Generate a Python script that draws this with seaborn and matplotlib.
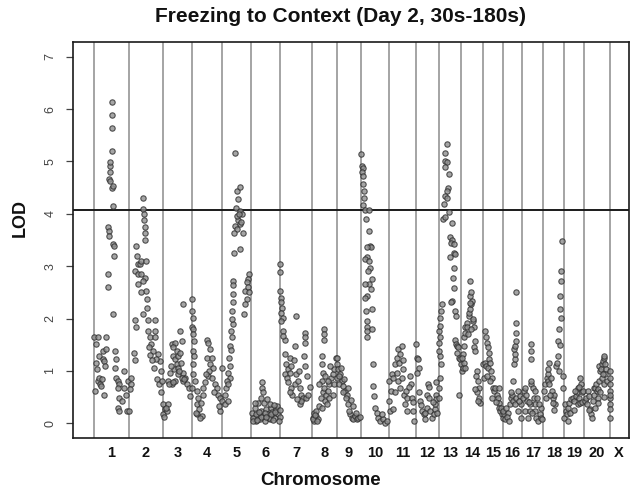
import matplotlib
matplotlib.use("Agg")
import matplotlib.pyplot as plt
import seaborn as sns
import numpy as np
import pandas as pd

# chromosome names and map lengths (cM)
chrom_names = ["1", "2", "3", "4", "5", "6", "7", "8", "9", "10", "11",
               "12", "13", "14", "15", "16", "17", "18", "19", "20", "X"]
chrom_len = [103, 102, 89, 90, 87, 87, 95, 74, 74, 82, 82,
             68, 67, 65, 61, 58, 63, 63, 58, 78, 55]
threshold = 4.07

# (position within chromosome in cM, LOD)
chr1 = [(0, 1.64), (2, 0.62), (4, 1.51), (5, 1.16), (8, 1.03), (10, 1.65), (12, 0.81), (14, 1.29),
        (15, 0.87), (18, 0.75), (20, 0.71), (22, 0.84), (25, 1.38), (27, 1.22), (28, 0.55), (30, 1.19),
        (32, 1.10), (35, 1.41), (35, 1.64), (42, 2.85), (42, 2.61), (42, 3.74), (44, 3.68), (45, 3.58),
        (48, 4.92), (48, 4.79), (48, 4.98), (45, 4.66), (48, 4.63), (52, 6.13), (54, 5.89), (52, 5.63),
        (54, 5.20), (52, 4.49), (55, 4.54), (55, 3.42), (58, 3.39), (60, 3.20), (55, 2.08), (55, 4.15),
        (62, 1.39), (65, 1.22), (62, 1.06), (65, 0.87), (70, 0.81), (75, 0.75), (72, 0.68), (75, 0.49),
        (82, 0.43), (72, 0.30), (75, 0.24), (90, 0.68), (95, 0.55), (98, 0.24), (100, 0.81), (88, 1.00)]
chr2 = [(43, 4.30), (43, 4.09), (45, 3.99), (47, 3.89), (48, 3.75), (50, 3.63), (50, 3.50), (23, 3.39),
        (26, 3.20), (28, 3.04), (33, 3.04), (38, 3.10), (53, 3.10), (18, 2.91), (28, 2.85), (38, 2.85),
        (48, 2.78), (43, 2.72), (28, 2.66), (53, 2.53), (38, 2.50), (56, 2.37), (56, 2.21), (43, 2.08),
        (18, 1.97), (21, 1.84), (58, 1.97), (80, 1.97), (58, 1.76), (63, 1.64), (78, 1.76), (68, 1.51),
        (78, 1.64), (73, 1.38), (88, 1.32), (93, 1.19), (83, 1.22), (96, 1.00), (86, 0.84), (90, 0.75),
        (8, 0.87), (6, 0.75), (16, 1.35), (18, 1.20), (3, 0.65), (0, 0.24), (60, 1.45), (65, 1.30),
        (70, 1.20), (75, 1.05), (98, 0.60), (100, 0.80)]
chr3 = [(2, 0.36), (7, 0.27), (0, 0.17), (12, 0.24), (17, 0.36), (27, 1.51), (37, 1.54), (32, 1.45),
        (42, 1.38), (30, 1.29), (37, 1.22), (47, 1.29), (52, 1.35), (57, 1.57), (52, 1.76), (60, 2.27),
        (42, 1.13), (34, 1.03), (47, 0.94), (62, 0.97), (67, 0.87), (22, 0.97), (17, 0.81), (27, 0.75),
        (37, 0.81), (62, 0.81), (72, 0.75), (80, 0.68), (82, 0.52), (57, 0.87), (64, 0.84), (20, 0.76),
        (32, 0.78), (45, 1.05), (25, 1.10), (5, 0.12), (10, 0.30), (50, 1.00), (55, 1.15)]
chr4 = [(0, 2.37), (0, 2.15), (3, 2.02), (0, 1.83), (3, 1.80), (3, 1.70), (5, 1.57), (1, 1.38),
        (5, 1.29), (3, 1.13), (3, 0.94), (8, 0.81), (0, 0.68), (13, 0.62), (18, 0.49), (13, 0.36),
        (21, 0.27), (15, 0.17), (28, 0.14), (25, 0.39), (33, 0.55), (43, 1.60), (48, 1.54), (53, 1.41),
        (43, 1.25), (58, 1.25), (53, 1.13), (63, 1.06), (48, 0.90), (58, 0.87), (38, 0.78), (33, 0.68),
        (68, 0.75), (73, 0.68), (78, 0.55), (83, 0.49), (88, 1.06), (88, 0.43), (83, 0.24), (81, 0.33),
        (50, 1.00), (40, 0.95), (65, 0.60), (10, 0.20), (23, 0.10)]
chr5 = [(38, 5.17), (43, 4.44), (53, 4.51), (48, 4.29), (41, 4.12), (53, 4.06), (58, 3.99), (48, 3.89),
        (53, 3.80), (38, 3.77), (43, 3.71), (35, 3.64), (61, 3.64), (53, 3.32), (35, 3.25), (81, 2.85),
        (78, 2.75), (75, 2.70), (68, 2.53), (73, 2.37), (68, 2.27), (65, 2.08), (33, 2.72), (31, 2.64),
        (31, 2.46), (31, 2.31), (28, 2.15), (33, 1.89), (25, 1.76), (28, 1.64), (23, 1.48), (21, 1.25),
        (23, 1.10), (18, 0.97), (23, 0.87), (13, 0.81), (11, 0.68), (8, 0.55), (18, 0.75), (8, 0.36),
        (18, 0.43), (76, 2.60), (80, 2.50), (45, 3.95), (50, 4.00), (56, 3.85), (30, 2.00), (26, 1.40)]
chr6 = [(2, 0.20), (8, 0.11), (15, 0.04), (20, 0.17), (12, 0.30), (25, 0.08), (30, 0.24), (35, 0.14),
        (40, 0.04), (45, 0.27), (50, 0.17), (55, 0.08), (60, 0.30), (65, 0.20), (70, 0.11), (75, 0.27),
        (80, 0.17), (32, 0.78), (32, 0.68), (35, 0.59), (30, 0.49), (38, 0.39), (48, 0.46), (55, 0.36),
        (78, 0.33), (20, 0.39), (10, 0.39), (42, 0.20), (52, 0.10), (62, 0.22), (68, 0.35), (85, 0.12),
        (5, 0.10), (28, 0.12), (4, 0.05), (14, 0.18), (18, 0.06), (24, 0.22), (44, 0.12), (58, 0.18),
        (66, 0.06), (72, 0.22), (82, 0.05), (86, 0.25)]
chr7 = [(0, 3.04), (0, 2.88), (0, 2.53), (1, 2.40), (3, 2.31), (5, 2.21), (3, 2.11), (8, 2.02),
        (3, 1.96), (8, 1.76), (13, 1.60), (8, 1.67), (13, 1.32), (18, 1.13), (23, 1.03), (15, 0.94),
        (28, 1.25), (33, 1.10), (28, 0.97), (21, 0.87), (23, 0.78), (31, 0.68), (35, 0.55), (28, 0.59),
        (43, 0.75), (48, 0.94), (53, 0.81), (58, 0.68), (63, 0.55), (68, 0.49), (58, 0.36), (48, 2.05),
        (45, 1.48), (73, 1.73), (73, 1.64), (75, 1.54), (71, 1.29), (73, 1.10), (78, 0.49), (83, 0.55),
        (63, 0.43), (51, 0.46), (40, 1.20), (55, 1.00), (88, 0.70), (80, 0.90)]
chr8 = [(2, 0.11), (7, 0.04), (12, 0.14), (5, 0.20), (17, 0.08), (12, 0.24), (22, 0.33), (27, 0.49),
        (32, 0.59), (37, 0.68), (42, 0.55), (47, 0.62), (52, 0.75), (57, 0.87), (62, 0.94), (67, 1.03),
        (72, 1.25), (29, 0.81), (32, 0.97), (29, 1.13), (29, 1.29), (35, 1.80), (35, 1.70), (35, 1.60),
        (22, 0.75), (39, 0.43), (45, 0.36), (52, 0.49), (62, 0.55), (40, 0.90), (55, 1.10), (65, 0.75),
        (30, 0.30), (48, 0.80), (4, 0.08), (9, 0.16), (14, 0.05)]
chr9 = [(0, 1.25), (1, 1.13), (5, 1.03), (10, 0.94), (2, 0.87), (15, 0.81), (8, 0.75), (20, 0.71),
        (25, 0.62), (30, 0.55), (18, 0.59), (35, 0.68), (28, 0.49), (35, 0.36), (40, 0.17), (45, 0.11),
        (50, 0.08), (55, 0.14), (60, 0.08), (65, 0.11), (48, 0.33), (38, 0.24), (12, 1.05), (22, 0.85),
        (42, 0.45), (58, 0.20), (70, 0.12), (6, 0.90)]
chr10 = [(0, 5.14), (2, 4.92), (4, 4.88), (1, 4.79), (6, 4.73), (4, 4.57), (8, 4.44), (6, 4.17),
         (12, 4.08), (24, 4.08), (24, 3.68), (26, 3.39), (28, 3.37), (16, 3.37), (18, 3.17), (11, 3.13),
         (26, 2.97), (31, 2.75), (24, 2.66), (28, 2.56), (11, 2.66), (16, 2.43), (12, 2.40), (14, 2.15),
         (31, 2.18), (16, 1.96), (16, 1.83), (16, 1.76), (31, 1.80), (16, 1.64), (34, 1.13), (36, 0.71),
         (38, 0.52), (41, 0.30), (46, 0.20), (51, 0.11), (56, 0.04), (66, 0.08), (71, 0.01), (61, 0.17),
         (76, 0.04), (20, 2.90), (22, 3.10), (14, 3.90), (9, 4.30)]
chr11 = [(4, 0.24), (2, 0.43), (6, 0.62), (2, 0.81), (9, 0.94), (14, 0.87), (19, 1.13), (24, 1.25),
         (29, 1.41), (34, 1.32), (39, 1.48), (32, 1.16), (24, 0.97), (29, 0.81), (34, 0.68), (39, 0.87),
         (44, 1.03), (46, 0.55), (52, 0.62), (54, 0.49), (49, 0.36), (56, 0.24), (64, 0.90), (66, 0.75),
         (69, 0.49), (74, 0.24), (76, 0.04), (12, 0.27), (20, 0.60), (42, 1.20), (60, 0.70), (72, 0.40)]
chr12 = [(1, 1.51), (2, 1.25), (5, 1.22), (8, 1.06), (4, 0.97), (13, 0.43), (18, 0.24), (23, 0.17),
         (28, 0.20), (33, 0.30), (36, 0.75), (33, 0.55), (38, 0.49), (43, 0.24), (48, 0.11), (53, 0.17),
         (56, 0.27), (58, 0.36), (60, 0.55), (60, 0.78), (60, 0.46), (26, 0.08), (15, 0.35), (40, 0.70),
         (50, 0.40), (64, 0.20), (10, 0.60)]
chr13 = [(5, 1.29), (0, 1.38), (2, 1.54), (5, 1.64), (2, 1.76), (5, 1.86), (5, 2.02), (8, 2.15),
         (10, 2.27), (8, 1.13), (5, 0.87), (0, 0.68), (1, 0.49), (25, 5.34), (20, 5.17), (20, 5.01),
         (25, 4.98), (18, 4.89), (30, 4.76), (28, 4.50), (25, 4.44), (20, 4.34), (25, 4.31), (15, 4.18),
         (12, 3.90), (20, 3.93), (30, 4.03), (40, 3.83), (35, 3.55), (40, 3.50), (38, 3.45), (45, 3.42),
         (45, 3.26), (48, 3.23), (35, 3.17), (45, 2.97), (42, 2.78), (45, 2.59), (40, 2.34), (38, 2.31),
         (50, 2.15), (52, 2.05), (50, 1.60), (52, 1.51), (55, 1.48), (58, 1.45), (55, 1.35), (60, 1.25),
         (62, 0.55), (65, 1.22)]
chr14 = [(1, 1.13), (3, 1.00), (5, 1.06), (8, 1.64), (13, 1.73), (11, 1.83), (18, 1.92), (23, 2.05),
         (25, 2.11), (28, 2.18), (31, 2.27), (33, 2.34), (28, 2.43), (31, 2.50), (28, 2.72), (18, 1.83),
         (21, 1.70), (35, 1.96), (38, 1.83), (31, 1.80), (41, 1.57), (38, 1.45), (43, 1.38), (8, 1.48),
         (5, 1.32), (8, 1.16), (3, 1.25), (13, 1.06), (48, 1.00), (45, 0.90), (51, 0.81), (53, 0.68),
         (48, 0.59), (53, 0.49), (58, 0.39), (51, 0.43), (43, 0.65), (36, 2.00), (26, 2.30)]
chr15 = [(3, 0.87), (0, 1.13), (6, 1.16), (10, 1.10), (8, 1.76), (10, 1.64), (13, 1.54), (16, 1.45),
         (18, 1.35), (20, 1.22), (23, 1.16), (16, 1.06), (26, 1.00), (28, 0.87), (23, 0.81), (30, 0.68),
         (33, 0.62), (38, 0.68), (43, 0.55), (46, 0.49), (48, 0.39), (50, 0.30), (53, 0.24), (58, 0.17),
         (60, 0.11), (48, 0.68), (13, 0.90), (28, 0.49), (40, 0.40), (55, 0.30)]
chr16 = [(3, 0.17), (7, 0.08), (0, 0.24), (10, 0.30), (15, 0.20), (20, 0.36), (23, 0.49), (27, 0.55),
         (30, 0.81), (33, 1.13), (35, 1.22), (37, 1.32), (33, 1.41), (35, 1.48), (40, 1.57), (40, 1.73),
         (40, 1.92), (40, 2.50), (25, 0.59), (30, 0.43), (35, 0.36), (40, 0.49), (45, 0.62), (50, 0.52),
         (45, 0.24), (53, 0.11), (55, 0.36), (47, 0.43), (12, 0.12), (18, 0.05)]
chr17 = [(2, 0.49), (5, 0.62), (7, 0.24), (9, 0.68), (12, 0.55), (15, 0.43), (17, 0.11), (22, 0.24),
         (25, 0.75), (27, 0.81), (27, 1.51), (27, 1.38), (27, 1.22), (32, 0.68), (35, 0.49), (37, 0.36),
         (39, 0.24), (42, 0.11), (47, 0.04), (52, 0.17), (55, 0.30), (37, 0.62), (22, 0.36), (45, 0.49),
         (49, 0.36), (57, 0.11), (30, 0.20), (60, 0.08), (19, 0.40)]
chr18 = [(3, 0.62), (5, 0.75), (8, 0.49), (11, 0.87), (13, 0.94), (15, 1.03), (18, 1.16), (13, 0.81),
         (18, 0.75), (23, 0.87), (25, 0.62), (28, 0.49), (31, 0.55), (35, 0.36), (28, 0.39), (38, 1.10),
         (41, 1.16), (43, 1.29), (45, 1.57), (48, 1.80), (53, 2.02), (51, 2.18), (49, 2.43), (53, 2.72),
         (53, 2.91), (55, 3.48), (58, 0.68), (50, 1.50), (47, 1.00), (60, 0.90), (33, 0.25), (20, 0.55)]
chr19 = [(2, 0.36), (5, 0.24), (0, 0.11), (8, 0.17), (10, 0.04), (12, 0.30), (15, 0.39), (20, 0.46),
         (25, 0.49), (30, 0.43), (35, 0.52), (38, 0.59), (42, 0.68), (45, 0.49), (48, 0.87), (50, 0.75),
         (52, 0.59), (40, 0.36), (32, 0.62), (48, 0.39), (55, 0.62), (18, 0.20), (28, 0.25), (45, 0.70),
         (52, 0.40)]
chr20 = [(4, 0.43), (7, 0.49), (10, 0.36), (12, 0.62), (17, 0.52), (20, 0.27), (22, 0.17), (24, 0.11),
         (27, 0.43), (32, 0.55), (30, 0.68), (34, 0.68), (37, 0.75), (40, 0.62), (42, 0.49), (44, 0.65),
         (47, 0.81), (47, 1.10), (50, 1.00), (54, 1.13), (52, 1.03), (57, 1.19), (60, 1.25), (62, 1.29),
         (64, 1.13), (67, 1.03), (54, 0.87), (60, 0.75), (42, 0.39), (70, 0.80), (65, 0.95), (57, 0.95),
         (15, 0.25), (35, 0.30), (50, 0.60), (62, 0.50)]
chrX = [(0, 0.75), (0, 0.62), (0, 0.49), (0, 0.36), (0, 0.27), (0, 0.11), (0, 0.87), (0, 1.00), (0, 0.55)]

all_chr = [chr1, chr2, chr3, chr4, chr5, chr6, chr7, chr8, chr9, chr10, chr11,
           chr12, chr13, chr14, chr15, chr16, chr17, chr18, chr19, chr20, chrX]

# genome-wide position = chromosome start + position
starts = np.concatenate([[0], np.cumsum(chrom_len)[:-1]])
total = sum(chrom_len)
rows = []
for name, st, pts in zip(chrom_names, starts, all_chr):
    for pos, lod in pts:
        rows.append({"chrom": name, "pos": st + pos, "lod": lod})
df = pd.DataFrame(rows)

sns.set_theme(style="white")
plt.rcParams["font.family"] = ["Liberation Sans", "DejaVu Sans"]

fig = plt.figure(figsize=(6.35, 4.94), dpi=100)
ax = fig.add_axes([73 / 635, 1 - 438 / 494, 556 / 635, 396 / 494])

for st in starts:
    ax.axvline(st, color="#8c8c8c", lw=1.1, zorder=0)
ax.axhline(threshold, color="#1a1a1a", lw=1.4, zorder=1)

sns.scatterplot(data=df, x="pos", y="lod", s=15, color="#8f8f8f",
                edgecolor="#2e2e2e", linewidth=0.8, alpha=0.8, legend=False, ax=ax, zorder=2)

ax.set_xlim(-64, total + 3)
ax.set_ylim(-0.28, 7.28)
ax.set_xticks(starts + np.array(chrom_len) / 2)
ax.set_xticklabels(chrom_names, fontweight="bold", fontsize=10.5)
ax.tick_params(axis="x", length=0, pad=6, colors="#111111")
ax.set_yticks(range(8))
ax.tick_params(axis="y", length=5, width=0.9, pad=7, labelsize=9, labelrotation=90,
               colors="#444444", left=True)
for lbl in ax.get_yticklabels():
    lbl.set_va("center")
ax.set_xlabel("")
ax.set_ylabel("")
for sp in ax.spines.values():
    sp.set_color("#1a1a1a")
    sp.set_linewidth(1.2)

fig.text(340 / 635, 1 - 17 / 494, "Freezing to Context (Day 2, 30s-180s)",
         ha="center", va="center", fontsize=15, fontweight="bold", color="#111111")
fig.text(321 / 635, 1 - 480 / 494, "Chromosome", ha="center", va="center",
         fontsize=13.5, fontweight="bold", color="#111111")
fig.text(20 / 635, 1 - 218 / 494, "LOD", ha="center", va="center", rotation=90,
         fontsize=13, fontweight="bold", color="#111111")

fig.savefig("out.png", dpi=100)
plt.close(fig)
